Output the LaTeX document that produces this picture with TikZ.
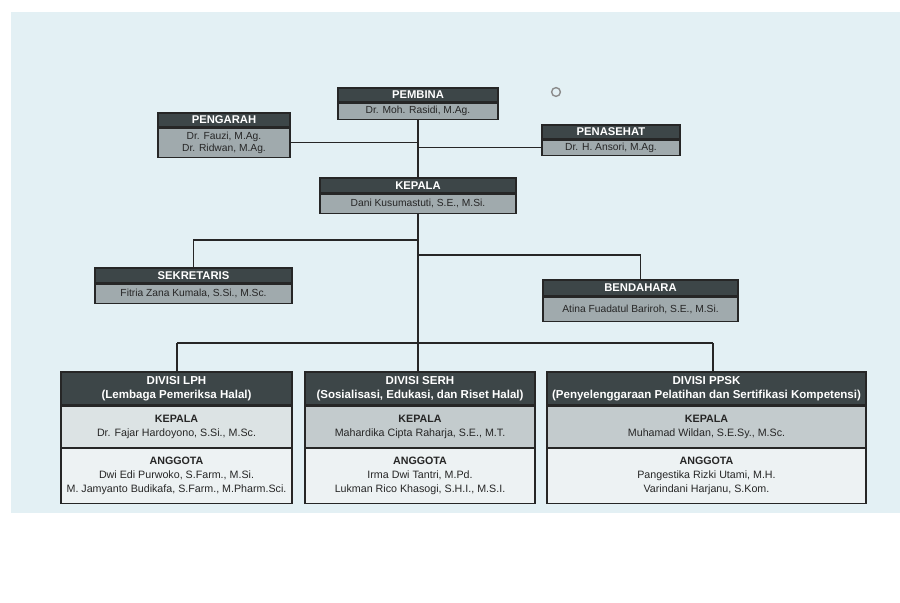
\documentclass[tikz,border=0pt]{standalone}
\usepackage{fontspec}
\setmainfont{Liberation Sans}
\usepackage{tikz}
\usetikzlibrary{positioning}
\definecolor{paper}{HTML}{E3F0F4}
\definecolor{headgray}{HTML}{3D4648}
\definecolor{namegray}{HTML}{A0AAAD}
\definecolor{rowgray}{HTML}{C3CBCD}
\definecolor{rowlight}{HTML}{DCE3E4}
\definecolor{rowwhite}{HTML}{EDF2F3}

\begin{document}
\begin{tikzpicture}[x=0.025cm,y=-0.025cm,
  headbox/.style={draw=black!85,line width=0.9pt,fill=headgray,text=white,
    font=\fontsize{8}{9}\selectfont\bfseries,inner sep=0pt,minimum height=0.35cm},
  namebox/.style={draw=black!85,line width=0.9pt,fill=namegray,text=black!85,
    font=\fontsize{7.3}{8.6}\selectfont,inner sep=0pt,align=center},
  divhead/.style={headbox,align=center,minimum height=0.825cm,
    font=\fontsize{8.2}{10}\selectfont\bfseries},
  divrow/.style={namebox,fill=rowgray,minimum height=1.025cm,
    font=\fontsize{7.6}{10}\selectfont},
  link/.style={draw=black!85,line width=0.9pt}]
\useasboundingbox (0,0) rectangle (900,603);
% paper
\fill[paper] (11,12) rectangle (900,513);
\draw[black!45,line width=1pt] (556,92) circle (0.11cm);
% top level
\node[headbox,minimum width=4cm] (pembina) at (418,95) {PEMBINA};
\node[namebox,minimum width=4cm,minimum height=0.4cm,below=0pt of pembina] (pembina-n) {Dr. Moh. Rasidi, M.Ag.};
\node[headbox,minimum width=3.3cm] (pengarah) at (224,120) {PENGARAH};
\node[namebox,minimum width=3.3cm,minimum height=0.725cm,below=0pt of pengarah] (pengarah-n) {Dr. Fauzi, M.Ag.\\Dr. Ridwan, M.Ag.};
\node[headbox,minimum width=3.45cm] (penasehat) at (611,132) {PENASEHAT};
\node[namebox,minimum width=3.45cm,minimum height=0.375cm,below=0pt of penasehat] (penasehat-n) {Dr. H. Ansori, M.Ag.};
\node[headbox,minimum width=4.9cm,minimum height=0.375cm] (kepala) at (418,185.5) {KEPALA};
\node[namebox,minimum width=4.9cm,minimum height=0.475cm,below=0pt of kepala] (kepala-n) {Dani Kusumastuti, S.E., M.Si.};
\node[headbox,minimum width=4.925cm,minimum height=0.375cm] (sekretaris) at (193.5,275.5) {SEKRETARIS};
\node[namebox,minimum width=4.925cm,minimum height=0.475cm,below=0pt of sekretaris] (sekretaris-n) {Fitria Zana Kumala, S.Si., M.Sc.};
\node[headbox,minimum width=4.875cm,minimum height=0.4cm] (bendahara) at (640.5,288) {BENDAHARA};
\node[namebox,minimum width=4.875cm,minimum height=0.6cm,below=0pt of bendahara] (bendahara-n) {Atina Fuadatul Bariroh, S.E., M.Si.};
% divisions
\node[divhead,minimum width=5.775cm] (lph) at (176.5,388.5) {DIVISI LPH\\(Lembaga Pemeriksa Halal)};
\node[divrow,fill=rowlight,minimum width=5.775cm,below=0pt of lph] (lph-k) {\textbf{KEPALA}\\Dr. Fajar Hardoyono, S.Si., M.Sc.};
\node[divrow,fill=rowwhite,minimum width=5.775cm,minimum height=1.375cm,below=0pt of lph-k] (lph-a) {\textbf{ANGGOTA}\\Dwi Edi Purwoko, S.Farm., M.Si.\\M. Jamyanto Budikafa, S.Farm., M.Pharm.Sci.};
\node[divhead,minimum width=5.75cm] (serh) at (420,388.5) {DIVISI SERH\\(Sosialisasi, Edukasi, dan Riset Halal)};
\node[divrow,minimum width=5.75cm,below=0pt of serh] (serh-k) {\textbf{KEPALA}\\Mahardika Cipta Raharja, S.E., M.T.};
\node[divrow,fill=rowwhite,minimum width=5.75cm,minimum height=1.375cm,below=0pt of serh-k] (serh-a) {\textbf{ANGGOTA}\\Irma Dwi Tantri, M.Pd.\\Lukman Rico Khasogi, S.H.I., M.S.I.};
\node[divhead,minimum width=7.975cm] (ppsk) at (706.5,388.5) {DIVISI PPSK\\(Penyelenggaraan Pelatihan dan Sertifikasi Kompetensi)};
\node[divrow,minimum width=7.975cm,below=0pt of ppsk] (ppsk-k) {\textbf{KEPALA}\\Muhamad Wildan, S.E.Sy., M.Sc.};
\node[divrow,fill=rowwhite,minimum width=7.975cm,minimum height=1.375cm,below=0pt of ppsk-k] (ppsk-a) {\textbf{ANGGOTA}\\Pangestika Rizki Utami, M.H.\\Varindani Harjanu, S.Kom.};
% connectors
\coordinate (sekj) at (418,240);
\coordinate (benj) at (418,255);
\coordinate (busL) at (177,343);
\coordinate (busR) at (713,343);
\draw[link] (pembina-n.south) -- (kepala.north);
\draw[link] (pengarah-n.east) -- (pengarah-n.east -| pembina-n.south);
\draw[link] (penasehat-n.west) -- (penasehat-n.west -| pembina-n.south);
\draw[link] (kepala-n.south) -- (kepala-n.south |- busL) -- (serh.north -| kepala-n.south);
\draw[link] (sekj) -- (sekj -| sekretaris.north) -- (sekretaris.north);
\draw[link] (benj) -- (benj -| bendahara.north) -- (bendahara.north);
\draw[link] (busL) -- (busR);
\draw[link] (busL) -- (busL |- lph.north);
\draw[link] (busR) -- (busR |- ppsk.north);
\end{tikzpicture}
\end{document}
